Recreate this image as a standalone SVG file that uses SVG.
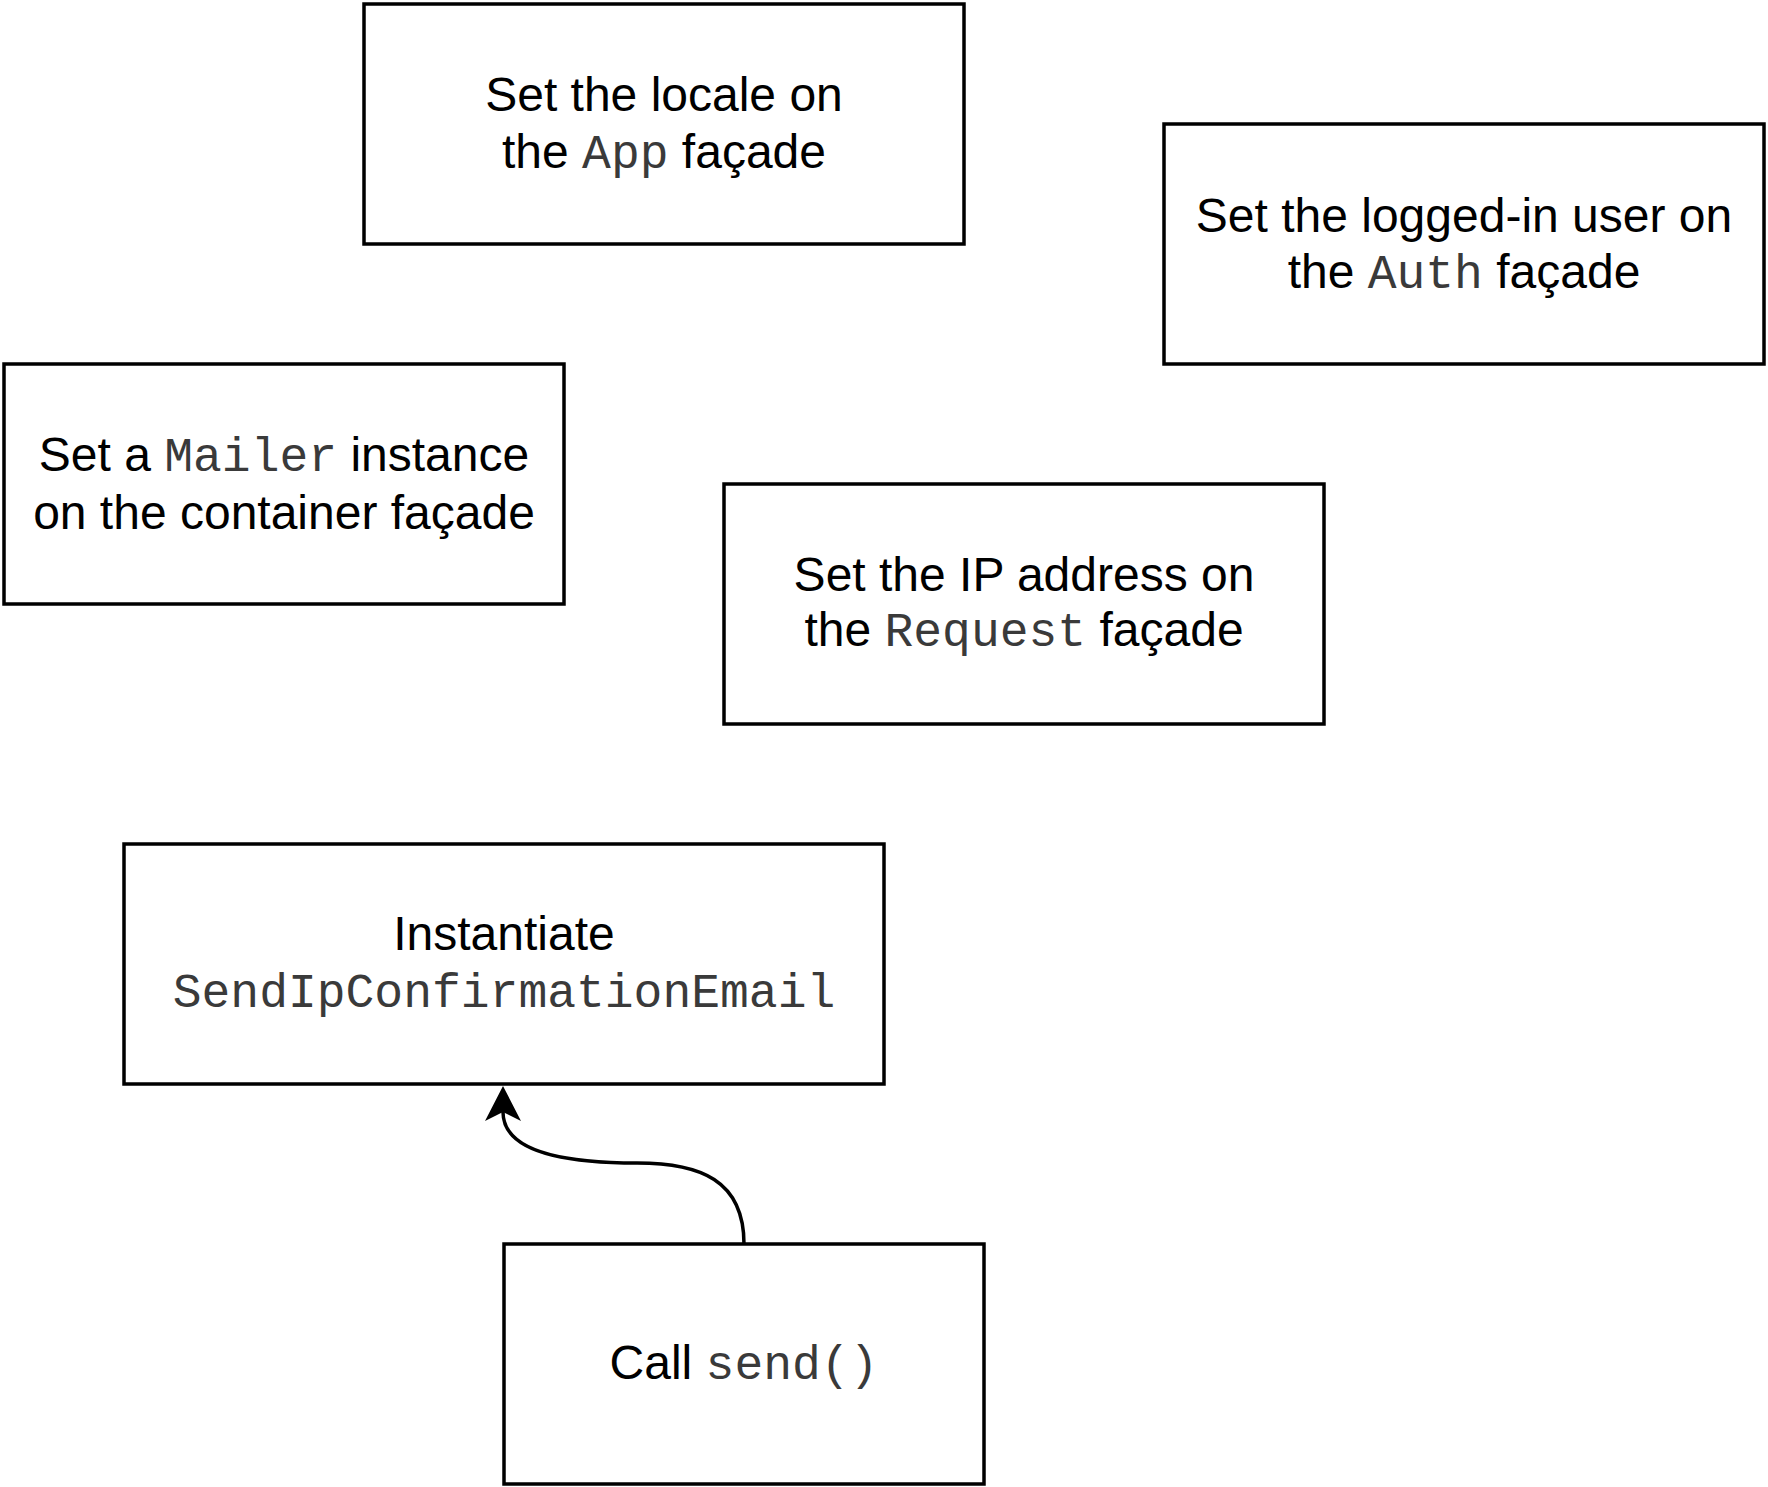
<svg xmlns="http://www.w3.org/2000/svg" width="1768" height="1487" viewBox="0 0 1768 1487">
<style>
.box{fill:#fff;stroke:#000;stroke-width:3.5}
.t{font-family:"Liberation Sans",Arial,sans-serif;font-size:48px;fill:#000;text-anchor:middle}
.m{font-family:"Liberation Mono","Courier New",monospace;fill:#3a3a3a}
.edge{fill:none;stroke:#000;stroke-width:3.5}
</style>
<defs>
<marker id="arr" markerUnits="userSpaceOnUse" viewBox="0 0 36 36" markerWidth="36" markerHeight="36" refX="9" refY="18" orient="auto">
<path d="M0,0 L35,18 L0,36 L9,18 Z" fill="#000"/>
</marker>
</defs>
<rect width="1768" height="1487" fill="#fff"/>
<g id="node-app">
<rect class="box" x="364" y="4" width="600" height="240"/>
<text class="t" x="664" y="111">Set the locale on</text>
<text class="t" x="664" y="168">the <tspan class="m">App</tspan> façade</text>
</g>
<g id="node-auth">
<rect class="box" x="1164" y="124" width="600" height="240"/>
<text class="t" x="1464" y="232">Set the logged-in user on</text>
<text class="t" x="1464" y="288">the <tspan class="m">Auth</tspan> façade</text>
</g>
<g id="node-mailer">
<rect class="box" x="4" y="364" width="560" height="240"/>
<text class="t" x="284" y="471">Set a <tspan class="m">Mailer</tspan> instance</text>
<text class="t" x="284" y="529">on the container façade</text>
</g>
<g id="node-request">
<rect class="box" x="724" y="484" width="600" height="240"/>
<text class="t" x="1024" y="591">Set the IP address on</text>
<text class="t" x="1024" y="646">the <tspan class="m">Request</tspan> façade</text>
</g>
<g id="node-instantiate">
<rect class="box" x="124" y="844" width="760" height="240"/>
<text class="t" x="504" y="950">Instantiate</text>
<text class="t" x="504" y="1007"><tspan class="m">SendIpConfirmationEmail</tspan></text>
</g>
<g id="node-call">
<rect class="box" x="504" y="1244" width="480" height="240"/>
<text class="t" x="744" y="1379">Call <tspan class="m">send()</tspan></text>
</g>
<g id="connectors">
<path class="edge" d="M744,1244 C744,1180 700,1163 637,1163 C560,1163 503,1150 503,1112" marker-end="url(#arr)"/>
</g>
</svg>
